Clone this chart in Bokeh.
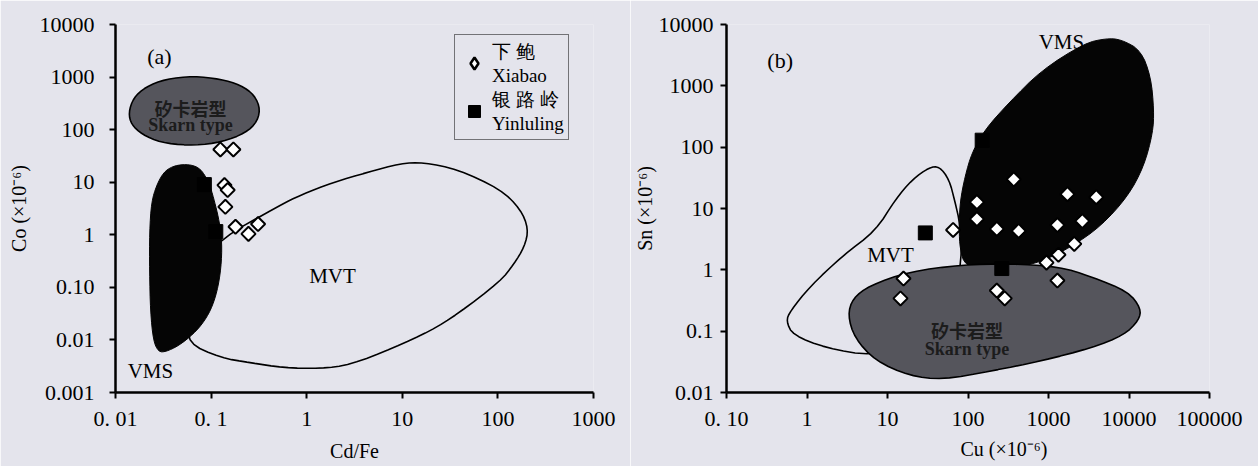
import numpy as np
from bokeh.plotting import figure
from bokeh.layouts import row
from bokeh.models import Range1d, FixedTicker, Label, Legend, LegendItem, Title
from bokeh.embed import file_html
from bokeh.resources import INLINE

BG = "#e4e4ec"
SERIF = "Liberation Serif"
CJK = "Noto Sans CJK SC"
SKARN_FILL = "#55555c"

# ---------------- Panel (a): Cd/Fe vs Co ----------------
a_x_ticks = [0.01, 0.1, 1, 10, 100, 1000]
a_x_labels = ["0. 01", "0. 1", "1", "10", "100", "1000"]
a_y_ticks = [0.001, 0.01, 0.1, 1, 10, 100, 1000, 10000]
a_y_labels = ["0.001", "0.01", "0.10", "1", "10", "100", "1000", "10000"]

a_xiabao_cdfe = [0.125, 0.171, 0.138, 0.149, 0.141, 0.18, 0.246, 0.31]
a_xiabao_co = [42, 42, 8.8, 7.1, 3.4, 1.42, 1.04, 1.6]
a_yinluling_cdfe = [0.085, 0.112]
a_yinluling_co = [9.0, 1.15]

a_skarn_x = [0.01368, 0.01541, 0.0206, 0.0334, 0.0655, 0.125, 0.203, 0.284,
             0.329, 0.291, 0.203, 0.111, 0.0566, 0.0296, 0.01914, 0.01469]
a_skarn_y = [209, 402, 647, 916, 1045, 916, 706, 457,
             238, 124, 77.1, 54.5, 49.9, 56.9, 80.5, 124]

a_vms_x = [0.0514, 0.0655, 0.0775, 0.0873, 0.0986, 0.109, 0.119, 0.129, 0.129,
           0.119, 0.1035, 0.0853, 0.0655, 0.0456, 0.0334, 0.0282, 0.0249,
           0.0232, 0.0227, 0.0227, 0.0238, 0.0269, 0.0318, 0.0394]
a_vms_y = [21.9, 20.9, 17.6, 13.0, 8.05, 4.2, 2.19, 0.917, 0.31,
           0.104, 0.0438, 0.0228, 0.013, 0.00771, 0.00594, 0.00594, 0.00957,
           0.0352, 0.2, 1.14, 4.2, 8.77, 15.4, 20.0]

a_mvt_x = [0.061, 0.0566, 0.125, 0.258, 0.571, 1.39, 2.87, 8.09, 19.7, 37.8,
           106, 146, 190, 209, 172, 106, 37.8, 16.7, 9.58, 4.33, 1.91, 0.861,
           0.532, 0.125, 0.0775, 0.0638]
a_mvt_y = [0.0228, 0.00877, 0.00457, 0.00368, 0.00296, 0.00284, 0.00337,
           0.00706, 0.0148, 0.031, 0.130, 0.272, 0.594, 1.30, 3.10, 7.38,
           17.6, 23.8, 22.8, 15.4, 10, 5.69, 3.68, 0.841, 0.249, 0.0841]

# ---------------- Panel (b): Cu vs Sn ----------------
b_x_ticks = [0.1, 1, 10, 100, 1000, 10000, 100000]
b_x_labels = ["0. 10", "1", "10", "100", "1000", "10000", "100000"]
b_y_ticks = [0.01, 0.1, 1, 10, 100, 1000, 10000]
b_y_labels = ["0.01", "0.1", "1", "10", "100", "1000", "10000"]

b_xiabao_cu = [370, 129, 129, 228, 426, 1290, 2630, 3920, 1720, 65.3,
               2090, 1330, 944, 1290, 228, 286, 15.8, 14.5]
b_xiabao_sn = [29.9, 12.7, 6.73, 4.64, 4.31, 5.38, 6.25, 15.3, 17.1, 4.47,
               2.65, 1.76, 1.31, 0.669, 0.46, 0.342, 0.721, 0.342]
b_yinluling_cu = [29.5, 150, 263]
b_yinluling_sn = [4.0, 130, 1.05]

b_vms_x = [7960, 14060, 18700, 20400, 19800, 15300, 9720, 4510, 1923, 820,
           349, 172, 91.8, 79.6, 77.4, 79.6, 91.8, 112, 162, 321, 820, 2780, 5200]
b_vms_y = [5710, 3790, 1390, 405, 172, 48.5, 15.9, 5.19, 2.37, 1.36,
           1.04, 0.97, 1.17, 2.2, 4.64, 12.7, 33.4, 81.8, 193, 527, 1800, 4930, 5930]

b_skarn_x = [3.21, 3.70, 6.0, 18.7, 84.3, 321, 1330, 3400, 9720, 14060,
             13300, 8670, 3400, 820, 198, 47.8, 18.7, 7.11, 3.91]
b_skarn_y = [0.182, 0.342, 0.555, 0.935, 1.21, 1.26, 1.13, 0.776, 0.444, 0.236,
             0.151, 0.0861, 0.0531, 0.0327, 0.0225, 0.0161, 0.0187, 0.0327, 0.0771]

b_mvt_x = [0.551, 0.617, 1.09, 2.78, 7.11, 12.6, 20.4, 33.0, 43.9, 58.3,
           69.1, 79.6, 84.3, 63.5, 27.0, 6.53, 1.72, 0.671]
b_mvt_y = [0.145, 0.211, 0.535, 1.70, 4.31, 14.2, 29.9, 46.8, 48.5, 29.9,
           12.7, 5.6, 1.52, 0.236, 0.064, 0.0394, 0.0531, 0.0861]


def smooth_outline(xs, ys, n=2):
    """Round the corners of a closed hand-read outline (Chaikin, in log space)."""
    lx, ly = np.log10(np.asarray(xs, float)), np.log10(np.asarray(ys, float))
    for _ in range(n):
        nx, ny = np.roll(lx, -1), np.roll(ly, -1)
        lx = np.column_stack([0.75 * lx + 0.25 * nx, 0.25 * lx + 0.75 * nx]).ravel()
        ly = np.column_stack([0.75 * ly + 0.25 * ny, 0.25 * ly + 0.75 * ny]).ravel()
    return list(10 ** lx), list(10 ** ly)


def make_fig(xr, yr, width, bl, br, bt, bb, xt, xl, yt, yl, ystand):
    p = figure(width=width, height=466, x_axis_type="log", y_axis_type="log",
               x_range=Range1d(*xr), y_range=Range1d(*yr),
               output_backend="svg", toolbar_location=None,
               min_border_left=bl, min_border_right=br,
               min_border_top=bt, min_border_bottom=bb,
               background_fill_color=BG, border_fill_color=BG,
               outline_line_color=None)
    p.grid.visible = False
    p.xaxis.ticker = FixedTicker(ticks=xt)
    p.yaxis.ticker = FixedTicker(ticks=yt)
    p.xaxis.major_label_overrides = dict(zip(xt, xl))
    p.yaxis.major_label_overrides = dict(zip(yt, yl))
    for ax in (p.xaxis[0], p.yaxis[0]):
        ax.axis_line_width = 2.5
        ax.axis_line_color = "black"
        ax.major_tick_line_width = 2
        ax.major_tick_out = 6
        ax.major_tick_in = 0
        ax.minor_tick_line_color = None
        ax.major_label_text_font = SERIF
        ax.major_label_text_font_size = "22px"
        ax.major_label_text_color = "black"
        ax.axis_label_text_font = SERIF
        ax.axis_label_text_font_size = "20px"
        ax.axis_label_text_font_style = "normal"
        ax.axis_label_text_color = "black"
    p.xaxis.major_label_standoff = 7
    p.yaxis.major_label_standoff = ystand
    return p


def add_label(p, x, y, text, size="21px", font=SERIF, style="normal", color="black"):
    p.add_layout(Label(x=x, y=y, text=text, text_align="center", text_baseline="middle",
                       text_font=font, text_font_size=size, text_font_style=style,
                       text_color=color))


# ---------- figure (a) ----------
pa = make_fig((0.01, 1000), (0.001, 10000), 630, 115, 37, 21, 74,
              a_x_ticks, a_x_labels, a_y_ticks, a_y_labels, 15)
pa.xaxis.axis_label = "Cd/Fe"
pa.yaxis.axis_label = "Co (×10⁻⁶)"
pa.xaxis.axis_label_standoff = 6
pa.yaxis.axis_label_standoff = 7

mx, my = smooth_outline(a_mvt_x, a_mvt_y)
pa.patch(mx, my, fill_color=None, line_color="black", line_width=1.6)
vx, vy = smooth_outline(a_vms_x, a_vms_y)
pa.patch(vx, vy, fill_color="#050505", line_color="#050505", line_width=1)
sx, sy = smooth_outline(a_skarn_x, a_skarn_y)
pa.patch(sx, sy, fill_color=SKARN_FILL, line_color="black", line_width=1.6)

# diamond key for the legend (sits fully under the drawn diamonds)
key_xb = pa.scatter(a_xiabao_cdfe, a_xiabao_co, marker="diamond", size=11,
                    fill_color="white", line_color="black", line_width=2.5)
pa.scatter(a_xiabao_cdfe, a_xiabao_co, marker="square", angle=np.pi / 4,
           size=10, fill_color="white", line_color="black", line_width=2)
r_yl_a = pa.scatter(a_yinluling_cdfe, a_yinluling_co, marker="square", size=14,
                    fill_color="black", line_color="black")

add_label(pa, 0.0288, 2490, "(a)", size="22px")
add_label(pa, 0.0232, 0.0026, "VMS")
add_label(pa, 1.86, 0.161, "MVT")
add_label(pa, 0.061, 260, "矽卡岩型", size="18px", font=CJK, style="bold", color="#1c1c1c")
add_label(pa, 0.061, 124, "Skarn type", size="18px", style="bold", color="#1c1c1c")

legend = Legend(items=[LegendItem(label="下 鲍\nXiabao", renderers=[key_xb]),
                       LegendItem(label="银 路 岭\nYinluling", renderers=[r_yl_a])],
                location=(339, 252), border_line_color="black", border_line_width=1.5,
                background_fill_color=BG, background_fill_alpha=1.0,
                label_text_font=SERIF, label_text_font_size="19px",
                label_text_color="black",
                glyph_width=30, glyph_height=30, label_standoff=3,
                padding=4, spacing=0, margin=0)
pa.add_layout(legend)

# ---------- figure (b) ----------
pb = make_fig((0.1, 100000), (0.01, 10000), 628, 93, 49, 24, 71,
              b_x_ticks, b_x_labels, b_y_ticks, b_y_labels, 7)
pb.yaxis.axis_label = "Sn (×10⁻⁶)"
pb.yaxis.axis_label_standoff = 0

mx, my = smooth_outline(b_mvt_x, b_mvt_y)
pb.patch(mx, my, fill_color=None, line_color="black", line_width=1.6)
vx, vy = smooth_outline(b_vms_x, b_vms_y)
pb.patch(vx, vy, fill_color="#050505", line_color="#050505", line_width=1)
sx, sy = smooth_outline(b_skarn_x, b_skarn_y)
pb.patch(sx, sy, fill_color=SKARN_FILL, line_color="black", line_width=1.6)

pb.scatter(b_yinluling_cu, b_yinluling_sn, marker="square", size=14,
           fill_color="black", line_color="black")
pb.scatter(b_xiabao_cu, b_xiabao_sn, marker="square", angle=np.pi / 4,
           size=10, fill_color="white", line_color="black", line_width=2)

add_label(pb, 0.464, 2610, "(b)", size="22px")
add_label(pb, 1446, 5120, "VMS")
add_label(pb, 10.9, 1.76, "MVT")
add_label(pb, 97.2, 0.104, "矽卡岩型", size="18px", font=CJK, style="bold", color="#1c1c1c")
add_label(pb, 97.2, 0.0512, "Skarn type", size="18px", style="bold", color="#1c1c1c")
pb.add_layout(Title(text="Cu (×10⁻⁶)", align="left", offset=234, standoff=4,
                    text_font=SERIF, text_font_size="20px", text_font_style="normal",
                    text_color="black"), "below")

layout = row(pa, pb)
open("out.html", "w").write(file_html(layout, INLINE))
